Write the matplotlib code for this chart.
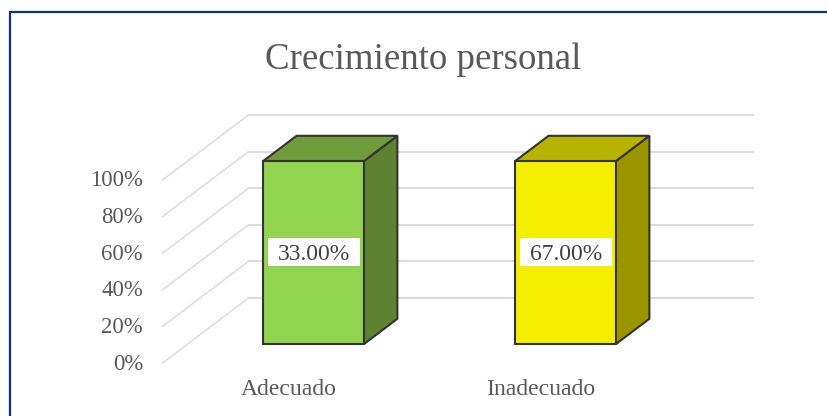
"""Crecimiento personal: fake-3D column chart."""

import matplotlib

matplotlib.use("Agg")
import matplotlib.pyplot as plt
from matplotlib.patches import Polygon, Rectangle
from matplotlib.transforms import ScaledTranslation

TITLE = "Crecimiento personal"
CATEGORIES = ["Adecuado", "Inadecuado"]
BAR_HEIGHTS = [100, 100]  # both columns reach the top in the original
LABEL_VALUES = [33.00, 67.00]
Y_TICKS = [0, 20, 40, 60, 80, 100]

FRONT_COLORS = ["#92D350", "#F4EE00"]
TOP_COLORS = ["#6F9B3A", "#B8B300"]
SIDE_COLORS = ["#5D8231", "#9B9600"]
GRID_COLOR = "#D9D9D9"
TEXT_COLOR = "#595959"
EDGE_COLOR = "#333333"
FRAME_COLOR = "#12336F"

W, H = 828, 416
# depth of the 3D box, in axes units per unit of depth
DEPTH_X = 86 / 252
DEPTH_Y = 65 / 1.83
BAR_WIDTH = 0.4
BAR_D0, BAR_D1 = 0.29, 0.68


def project(x, v, d):
    """Shift a point (category, percent) back by depth d."""
    return x + d * DEPTH_X, v + d * DEPTH_Y


def draw_bar(ax, i):
    left = i - BAR_WIDTH / 2
    right = i + BAR_WIDTH / 2
    h = BAR_HEIGHTS[i]
    style = dict(edgecolor=EDGE_COLOR, linewidth=1.5, joinstyle="miter", clip_on=False, zorder=3)
    front = [project(left, 0, BAR_D0), project(right, 0, BAR_D0),
             project(right, h, BAR_D0), project(left, h, BAR_D0)]
    top = [project(left, h, BAR_D0), project(right, h, BAR_D0),
           project(right, h, BAR_D1), project(left, h, BAR_D1)]
    side = [project(right, 0, BAR_D0), project(right, 0, BAR_D1),
            project(right, h, BAR_D1), project(right, h, BAR_D0)]
    ax.add_patch(Polygon(side, facecolor=SIDE_COLORS[i], **style))
    ax.add_patch(Polygon(top, facecolor=TOP_COLORS[i], **style))
    ax.add_patch(Polygon(front, facecolor=FRONT_COLORS[i], **style))

    # data label on a white box
    cx, cy = project(i, h / 2, BAR_D0)
    cx += 1 / 252
    box_w, box_h = 92 / 252, 28 / 1.83
    ax.add_patch(Rectangle((cx - box_w / 2, cy - box_h / 2 + 0.5), box_w, box_h,
                           facecolor="white", edgecolor="none", clip_on=False, zorder=4))
    ax.text(cx, cy + 0.5, f"{LABEL_VALUES[i]:.2f}%", ha="center", va="center_baseline",
            fontsize=17, color="#404040", zorder=5)


def main() -> None:
    plt.rcParams["font.family"] = ["Liberation Serif", "DejaVu Serif"]

    fig = plt.figure(figsize=(W / 100, H / 100), dpi=100)
    # axes box = front plane of the 3D plot: x 162.5..666.5, y 180..363 px
    ax = fig.add_axes([162.5 / W, 1 - 363 / H, 504 / W, 183 / H])
    ax.set_xlim(-0.5, 1.5)
    ax.set_ylim(0, 100)
    for spine in ax.spines.values():
        spine.set_visible(False)

    ax.set_yticks(Y_TICKS)
    ax.set_yticklabels([f"{t}%" for t in Y_TICKS], fontsize=16.4, color=TEXT_COLOR)
    ax.set_xticks(range(len(CATEGORIES)))
    ax.set_xticklabels(CATEGORIES, fontsize=17, color=TEXT_COLOR)
    ax.tick_params(axis="y", length=0, pad=14)
    ax.tick_params(axis="x", length=0, pad=11.5)
    lift = ScaledTranslation(0, 1.5 / 100, fig.dpi_scale_trans)
    for label in ax.get_yticklabels():
        label.set_transform(label.get_transform() + lift)

    # gridlines: diagonal on the side wall, horizontal on the back wall
    for t in Y_TICKS:
        x0, y0 = project(-0.5, t, 0)
        x1, y1 = project(-0.5, t, 1)
        x2, y2 = project(1.5, t, 1)
        ax.plot([x0, x1], [y0, y1], color=GRID_COLOR, lw=1.0, clip_on=False, zorder=1)
        ax.plot([x1, x2], [y1, y2], color=GRID_COLOR, lw=1.3, clip_on=False, zorder=1)

    for i in range(len(CATEGORIES)):
        draw_bar(ax, i)

    fig.text(423 / W, 1 - 60 / H, TITLE, ha="center", va="center",
             fontsize=26.6, color=TEXT_COLOR)

    # outer frame, cut by the bottom and right of the image
    frame = Rectangle((9.5 / W, -0.1), 1.1, 1 - 12 / H + 0.1, transform=fig.transFigure,
                      facecolor="none", edgecolor=FRAME_COLOR, linewidth=1.6, clip_on=False)
    fig.add_artist(frame)

    fig.savefig("out.png", dpi=100)


if __name__ == "__main__":
    main()
